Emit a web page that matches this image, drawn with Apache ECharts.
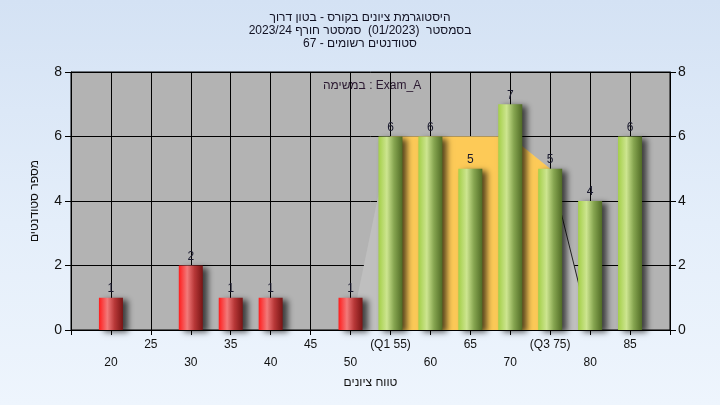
<!DOCTYPE html>
<html>
<head>
<meta charset="utf-8">
<script src="https://cdn.jsdelivr.net/npm/echarts@6/dist/echarts.min.js"></script>
<style>
html,body{margin:0;padding:0;width:720px;height:405px;overflow:hidden;
background:linear-gradient(to bottom,#d4e2f4 0%,#e4eefa 55%,#eef5fd 100%);}
#c{width:720px;height:405px;}
</style>
</head>
<body>
<div id="c"></div>
<script>
// ---- data ----
const titleLines = [
  'היסטוגרמת ציונים בקורס - בטון דרוך',
  'בסמסטר  (01/2023)  סמסטר חורף 2023/24',
  'סטודנטים רשומים - 67'
];
const annotation = 'במשימה : Exam_A';
const xAxisName = 'טווח ציונים';
const yAxisName = 'מספר סטודנטים';
const redBins = [20, 30, 35, 40, 50];
const redCounts = [1, 2, 1, 1, 1];
const greenBins = [55, 60, 65, 70, 75, 80, 85];
const greenCounts = [6, 6, 5, 7, 5, 4, 6];
const iqrX = [55, 70, 75];
const iqrY = [6, 6, 5];
const spreadX = [50, 55, 70, 75, 80];
const spreadY = [0, 6, 6, 5, 0];
const edgeX = [75, 80];
const edgeY = [5, 0];
const specialTicks = {55: '(Q1 55)', 75: '(Q3 75)'};

const rtl = s => '\u202B' + s + '\u202C';
const zip = (a, b) => a.map((v, i) => [v, b[i]]);
const FONT = 'Liberation Sans, Arial, sans-serif';

const redGrad = new echarts.graphic.LinearGradient(0, 0, 1, 0, [
  {offset: 0, color: '#ff1c1c'},
  {offset: 0.35, color: '#f27a7a'},
  {offset: 0.65, color: '#b83838'},
  {offset: 1, color: '#781414'}
]);
const greenGrad = new echarts.graphic.LinearGradient(0, 0, 1, 0, [
  {offset: 0, color: '#a4cf48'},
  {offset: 0.35, color: '#cde590'},
  {offset: 0.65, color: '#86a550'},
  {offset: 1, color: '#506b25'}
]);
const barShadow = {shadowColor: 'rgba(0,0,0,0.65)', shadowBlur: 6, shadowOffsetX: 5, shadowOffsetY: 2};
const barLabel = {show: true, position: 'top', distance: 3, color: '#1a1a2e', fontSize: 12, fontFamily: FONT};

const chart = echarts.init(document.getElementById('c'), null, {renderer: 'canvas'});
chart.setOption({
  backgroundColor: 'transparent',
  animation: false,
  textStyle: {fontFamily: FONT},
  title: {
    text: titleLines.map(rtl).join('\n'),
    left: 'center', top: 11, padding: 0,
    textStyle: {fontSize: 12, fontWeight: 'normal', color: '#111122', lineHeight: 13, fontFamily: FONT}
  },
  graphic: [{
    type: 'text', left: 323, top: 80,
    style: {text: annotation, fontSize: 12, fill: '#2a1830', fontFamily: FONT}
  }],
  grid: {
    left: 71, right: 50, top: 72, bottom: 75,
    show: true, backgroundColor: '#b3b3b3', borderColor: '#000', borderWidth: 1
  },
  xAxis: {
    type: 'value', min: 15, max: 90, interval: 5,
    name: xAxisName, nameLocation: 'middle', nameGap: 45,
    nameTextStyle: {fontSize: 12, color: '#111', fontFamily: FONT},
    axisLine: {show: true, lineStyle: {color: '#000', width: 1}},
    axisTick: {show: true, length: 5, lineStyle: {color: '#000'}},
    splitLine: {show: true, lineStyle: {color: '#000', width: 1}},
    axisLabel: {
      margin: 6, fontSize: 12, lineHeight: 18, color: '#111', fontFamily: FONT,
      showMinLabel: true, showMaxLabel: true,
      formatter: v => {
        if (v <= 15 || v >= 90) return '';
        const t = specialTicks[v] || String(v);
        return (v % 10 === 5) ? t : '\n' + t;
      }
    }
  },
  yAxis: [{
    type: 'value', min: 0, max: 8, interval: 2, position: 'left',
    name: yAxisName, nameLocation: 'middle', nameGap: 30,
    nameTextStyle: {fontSize: 12, color: '#111', fontFamily: FONT},
    axisLine: {show: true, lineStyle: {color: '#000'}},
    axisTick: {show: true, length: 6, lineStyle: {color: '#000'}},
    splitLine: {show: true, lineStyle: {color: '#000', width: 1}},
    axisLabel: {margin: 9, fontSize: 14, color: '#111', fontFamily: FONT}
  }, {
    type: 'value', min: 0, max: 8, interval: 2, position: 'right',
    axisLine: {show: true, lineStyle: {color: '#000'}},
    axisTick: {show: true, length: 6, lineStyle: {color: '#000'}},
    splitLine: {show: false},
    axisLabel: {margin: 8, fontSize: 14, color: '#111', fontFamily: FONT}
  }],
  series: [{
    type: 'line', data: zip(spreadX, spreadY), symbol: 'none', silent: true,
    lineStyle: {width: 0, opacity: 0}, areaStyle: {color: '#bfbfbf', opacity: 1}, z: 1
  }, {
    type: 'line', data: zip(iqrX, iqrY), symbol: 'none', silent: true,
    lineStyle: {width: 0, opacity: 0}, areaStyle: {color: '#fdca57', opacity: 1}, z: 1
  }, {
    type: 'line', data: zip(edgeX, edgeY), symbol: 'none', silent: true,
    lineStyle: {width: 1, color: '#222'}, z: 1
  }, {
    type: 'bar', data: zip(redBins, redCounts), barWidth: 24, barGap: '-100%',
    itemStyle: Object.assign({color: redGrad}, barShadow), label: barLabel, z: 3
  }, {
    type: 'bar', data: zip(greenBins, greenCounts), barWidth: 24, barGap: '-100%',
    itemStyle: Object.assign({color: greenGrad}, barShadow), label: barLabel, z: 3
  }]
});
</script>
</body>
</html>
